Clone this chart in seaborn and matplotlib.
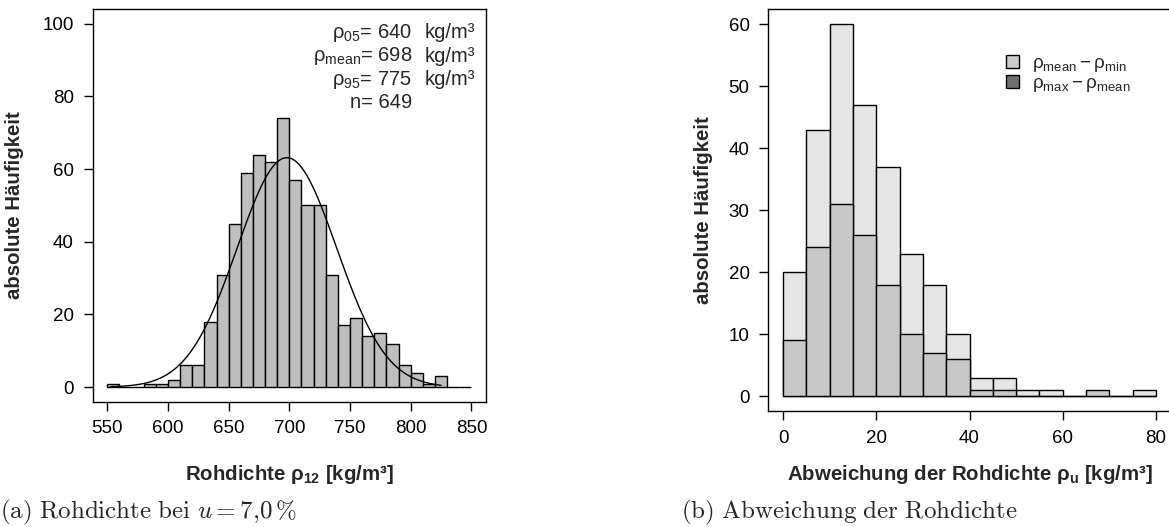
import numpy as np
import pandas as pd
import matplotlib
matplotlib.use("Agg")
import matplotlib.pyplot as plt
from matplotlib.patches import Patch
import seaborn as sns

# (a) Rohdichte bei u = 7,0 %  -> Klassenbreite 10 kg/m³
dens_edges = list(range(550, 860, 10))
dens_counts = [1, 0, 0, 1, 1, 2, 6, 6, 18, 31, 45, 59, 64, 62, 74,
               57, 50, 50, 31, 17, 19, 14, 15, 12, 6, 4, 1, 3, 0, 0]
rho05 = 640
rho_mean = 698
rho95 = 775
n_samples = 649
rho_sd = 41
rho_min, rho_max = 553, 825

# (b) Abweichung der Rohdichte -> Klassenbreite 5 kg/m³
dev_edges = list(range(0, 85, 5))
dev_mean_min = [20, 43, 60, 47, 37, 23, 18, 10, 3, 3, 1, 1, 0, 0, 0, 1]
dev_max_mean = [9, 24, 31, 26, 18, 10, 7, 6, 1, 1, 0, 0, 0, 1, 0, 0]

sns.set_theme(style="ticks")
plt.rcParams["font.family"] = ["Liberation Sans", "DejaVu Sans"]
plt.rcParams["mathtext.fontset"] = "cm"
plt.rcParams["axes.linewidth"] = 1.0

LABEL_FS = 14.7

fig = plt.figure(figsize=(11.69, 5.27), dpi=100)
ax1 = fig.add_axes([0.0793, 0.2378, 0.3364, 0.7446])
ax2 = fig.add_axes([0.6572, 0.2201, 0.3443, 0.7623])

# --- left: histogram with normal fit
e = np.array(dens_edges)
dens_df = pd.DataFrame({"rho": (e[:-1] + e[1:]) / 2, "count": dens_counts})
sns.histplot(data=dens_df, x="rho", weights="count", bins=dens_edges, color="#bebebe",
             edgecolor="black", linewidth=1.0, alpha=1, ax=ax1)
xs = np.linspace(rho_min, rho_max, 400)
width = dens_edges[1] - dens_edges[0]
ys = n_samples * width * np.exp(-0.5 * ((xs - rho_mean) / rho_sd) ** 2) / (rho_sd * np.sqrt(2 * np.pi))
sns.lineplot(x=xs, y=ys, color="black", linewidth=1.0, ax=ax1)

ax1.set_xlim(538, 862)
ax1.set_ylim(-4, 104)
ax1.set_xticks(np.arange(550, 851, 50))
ax1.set_yticks(np.arange(0, 101, 20))

stats = [(r"$\mathregular{ρ_{05}}$= %d" % rho05, True),
         (r"$\mathregular{ρ_{mean}}$= %d" % rho_mean, True),
         (r"$\mathregular{ρ_{95}}$= %d" % rho95, True),
         ("n= %d" % n_samples, False)]
for i, (txt, unit) in enumerate(stats):
    y = 0.9396 - i * 0.0594
    ax1.text(0.812, y, txt, transform=ax1.transAxes, ha="right", va="center", fontsize=14.5)
    if unit:
        ax1.text(0.843, y, "kg/m³", transform=ax1.transAxes, ha="left", va="center", fontsize=14.5)

ax1.set_xlabel(r"Rohdichte $\mathregular{ρ_{12}}$ [kg/m³]", fontsize=LABEL_FS, fontweight="bold")
ax1.set_ylabel("absolute Häufigkeit", fontsize=LABEL_FS, fontweight="bold")
ax1.xaxis.set_label_coords(0.5, -0.155)
ax1.yaxis.set_label_coords(-0.175, 0.5)

# --- right: two overlaid histograms
d = np.array(dev_edges)
dev_df = pd.DataFrame({"dev": (d[:-1] + d[1:]) / 2,
                       "mean_min": dev_mean_min, "max_mean": dev_max_mean})
sns.histplot(data=dev_df, x="dev", weights="mean_min", bins=dev_edges, color="#e5e5e5",
             edgecolor="black", linewidth=1.0, alpha=1, ax=ax2)
sns.histplot(data=dev_df, x="dev", weights="max_mean", bins=dev_edges, color="#c8c8c8",
             edgecolor="black", linewidth=1.0, alpha=1, ax=ax2)
ax2.set_xlim(-3.2, 83.2)
ax2.set_ylim(-2.4, 62.4)
ax2.set_xticks(np.arange(0, 81, 20))
ax2.set_yticks(np.arange(0, 61, 10))
ax2.set_xlabel(r"Abweichung der Rohdichte $\mathregular{ρ_{u}}$ [kg/m³]", fontsize=LABEL_FS, fontweight="bold")
ax2.set_ylabel("absolute Häufigkeit", fontsize=LABEL_FS, fontweight="bold")
ax2.xaxis.set_label_coords(0.5, -0.13)
ax2.yaxis.set_label_coords(-0.137, 0.5)

handles = [Patch(facecolor="#cccccc", edgecolor="black", linewidth=1.0),
           Patch(facecolor="#707070", edgecolor="black", linewidth=1.0)]
labels = [r"$\mathregular{ρ_{mean}-ρ_{min}}$", r"$\mathregular{ρ_{max}-ρ_{mean}}$"]
fig.legend(handles, labels, loc="upper left", bbox_to_anchor=(1006 / 1169, 1 - 55 / 527),
           frameon=False, fontsize=13.5, handlelength=0.7, handleheight=0.7,
           handletextpad=0.68, labelspacing=0.05, borderpad=0, borderaxespad=0)

for ax in (ax1, ax2):
    for s in ax.spines.values():
        s.set_visible(True)
        s.set_color("black")
    ax.tick_params(direction="out", length=6.5, width=1.0, labelsize=13.5, pad=7, colors="black")
    ax.grid(False)

fig.text(0.0, 1 - 512 / 527, r"$\mathrm{(a)\ Rohdichte\ bei\ }u=7{,}0\,\%$",
         fontsize=18, va="center", ha="left")
fig.text(681 / 1169, 1 - 512 / 527, r"$\mathrm{(b)\ Abweichung\ der\ Rohdichte}$",
         fontsize=18, va="center", ha="left")

fig.savefig("out.png", dpi=100)
